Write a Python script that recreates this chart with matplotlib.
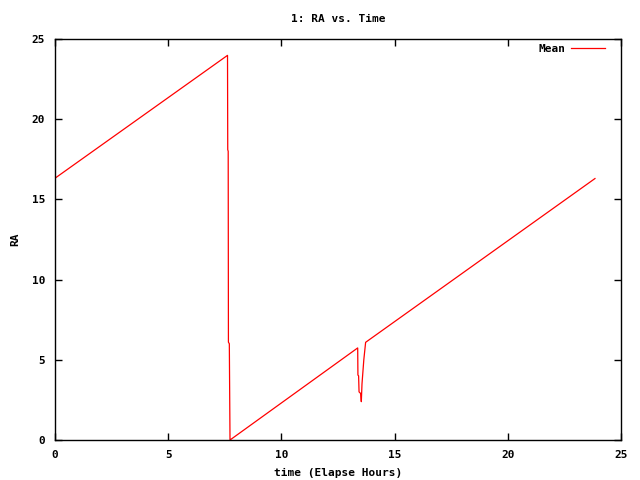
import matplotlib
matplotlib.use("Agg")
import matplotlib.pyplot as plt

# elapsed time (hours) and mean RA
temps = [0.0, 7.62, 7.63, 7.65, 7.66, 7.70, 7.73,
         13.37, 13.38, 13.41, 13.43, 13.50, 13.53, 13.56, 13.64, 13.72,
         23.85]
ra = [16.32, 23.98, 18.1, 18.0, 6.1, 6.0, 0.0,
      5.74, 4.05, 4.0, 3.0, 2.9, 2.39, 3.5, 5.0, 6.09,
      16.30]

police = "DejaVu Sans Mono"

fig = plt.figure(figsize=(6.4, 4.8), dpi=100)
ax = fig.add_axes([55 / 640, 40 / 480, 566 / 640, 401 / 480])

ax.plot(temps, ra, color="red", linewidth=0.9, label="Mean")

ax.set_xlim(0, 25)
ax.set_ylim(0, 25)
ax.set_xticks([0, 5, 10, 15, 20, 25])
ax.set_yticks([0, 5, 10, 15, 20, 25])
ax.tick_params(direction="in", length=5, width=1, top=True, right=True,
               labelsize=8, pad=7)
for lab in ax.get_xticklabels() + ax.get_yticklabels():
    lab.set_fontfamily(police)
    lab.set_fontweight("bold")
for s in ax.spines.values():
    s.set_linewidth(1)

ax.set_title("1: RA vs. Time", fontsize=8, fontweight="bold",
             fontfamily=police, pad=12)
ax.set_xlabel("time (Elapse Hours)", fontsize=8, fontweight="bold",
              fontfamily=police, labelpad=6)
ax.set_ylabel("RA", fontsize=8, fontweight="bold", fontfamily=police,
              labelpad=8)

leg = ax.legend(loc="center right", bbox_to_anchor=(0.972, 0.975),
                frameon=False, markerfirst=False,
                handlelength=3.1, handletextpad=0.5, borderaxespad=0,
                borderpad=0,
                prop={"family": police, "weight": "bold", "size": 8})

fig.savefig("out.png", dpi=100)
